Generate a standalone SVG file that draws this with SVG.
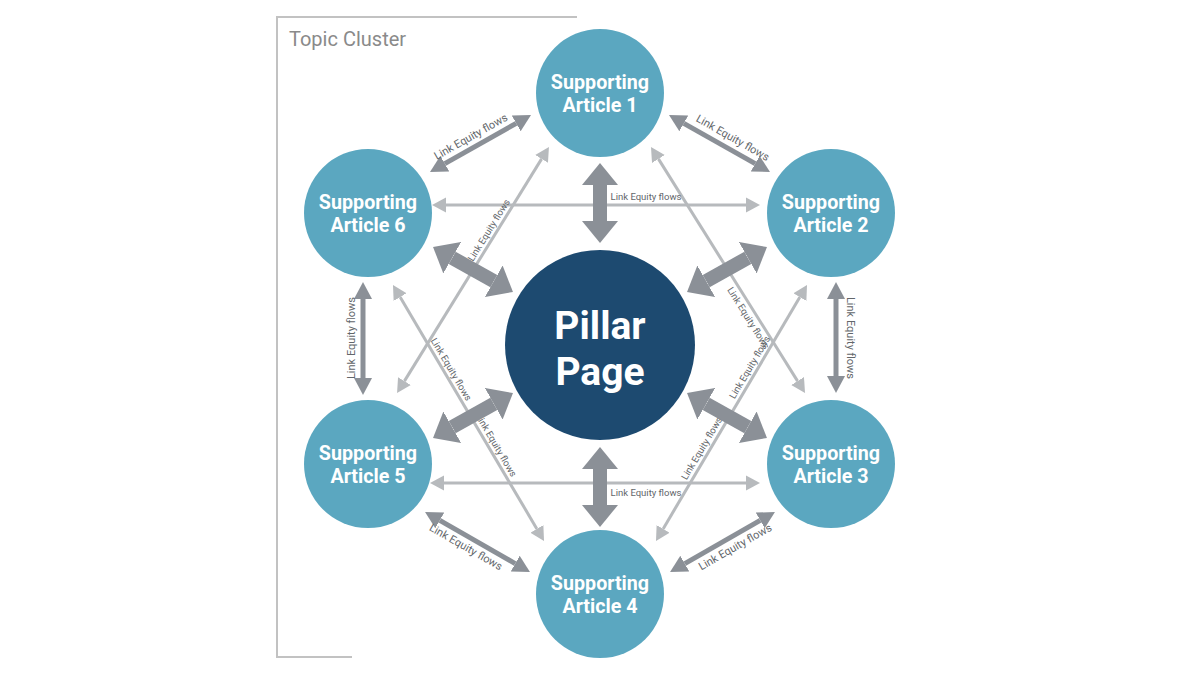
<svg xmlns="http://www.w3.org/2000/svg" width="1200" height="675" viewBox="0 0 1200 675">
<style>
.frame{fill:none;stroke:#c2c2c2;stroke-width:2}
.title{font-family:Roboto,"Liberation Sans",sans-serif;font-size:20px;fill:#8a8a8a}
.sat{fill:#5ba7c0}
.pillar{fill:#1d4a70}
.nt{font-family:Roboto,"Liberation Sans",sans-serif;font-weight:bold;font-size:19.7px;fill:#ffffff;text-anchor:middle}
.pt{font-family:Roboto,"Liberation Sans",sans-serif;font-weight:bold;font-size:39px;fill:#ffffff;text-anchor:middle}
.thick{stroke:#8b9097;stroke-width:14;fill:none}
.med{stroke:#8b9097;stroke-width:5;fill:none}
.light{stroke:#b7babd;stroke-width:3;fill:none}
.lbl{font-family:Roboto,"Liberation Sans",sans-serif;font-size:11px;fill:#62666a;text-anchor:middle}
.sl{font-family:Roboto,"Liberation Sans",sans-serif;font-size:9.5px;fill:#62666a;text-anchor:middle}
</style>
<defs>
<marker id="hThick" markerUnits="userSpaceOnUse" viewBox="0 -19 23 38" refX="0" refY="0" markerWidth="23" markerHeight="38" orient="auto-start-reverse">
<path d="M0,-18 L22,0 L0,18 Z" fill="#8b9097"/>
</marker>
<marker id="hMed" markerUnits="userSpaceOnUse" viewBox="0 -10 18 20" refX="0" refY="0" markerWidth="18" markerHeight="20" orient="auto-start-reverse">
<path d="M0,-9 L17,0 L0,9 Z" fill="#8b9097"/>
</marker>
<marker id="hLight" markerUnits="userSpaceOnUse" viewBox="0 -8 15 16" refX="0" refY="0" markerWidth="15" markerHeight="16" orient="auto-start-reverse">
<path d="M0,-7.5 L14,0 L0,7.5 Z" fill="#b7babd"/>
</marker>
</defs>
<rect width="1200" height="675" fill="#ffffff"/>
<g id="topic-cluster">
<polyline class="frame" points="577,17 277,17 277,657 352,657"/>
<text class="title" x="289" y="46">Topic Cluster</text>
</g>
<g id="connectors">
<line class="light" x1="446" y1="205" x2="746" y2="205" marker-start="url(#hLight)" marker-end="url(#hLight)"/>
<line class="light" x1="444" y1="483" x2="746" y2="483" marker-start="url(#hLight)" marker-end="url(#hLight)"/>
<line class="light" x1="541.6" y1="158.9" x2="404.4" y2="381.1" marker-start="url(#hLight)" marker-end="url(#hLight)"/>
<line class="light" x1="658.4" y1="158.9" x2="797.6" y2="381.1" marker-start="url(#hLight)" marker-end="url(#hLight)"/>
<line class="light" x1="400.1" y1="297.1" x2="536.9" y2="528.9" marker-start="url(#hLight)" marker-end="url(#hLight)"/>
<line class="light" x1="799.9" y1="297.1" x2="663.1" y2="528.9" marker-start="url(#hLight)" marker-end="url(#hLight)"/>
<text class="sl" x="646" y="200">Link Equity flows</text>
<text class="sl" x="646" y="496">Link Equity flows</text>
<text class="sl" transform="translate(495,234) rotate(-58.3)" y="-4">Link Equity flows</text>
<text class="sl" transform="translate(445,373) rotate(59.5)" y="-4">Link Equity flows</text>
<text class="sl" transform="translate(490,449) rotate(59.5)" y="-4">Link Equity flows</text>
<text class="sl" transform="translate(755,314) rotate(58)" y="11">Link Equity flows</text>
<text class="sl" transform="translate(756,371) rotate(-59.5)" y="-4">Link Equity flows</text>
<text class="sl" transform="translate(708,452) rotate(-59.5)" y="-4">Link Equity flows</text>
<line class="med" x1="444.8" y1="163.65" x2="516.2" y2="123.35" marker-start="url(#hMed)" marker-end="url(#hMed)"/>
<line class="med" x1="683.8" y1="123.35" x2="755.2" y2="163.65" marker-start="url(#hMed)" marker-end="url(#hMed)"/>
<line class="med" x1="363" y1="299" x2="363" y2="378" marker-start="url(#hMed)" marker-end="url(#hMed)"/>
<line class="med" x1="836" y1="299" x2="836" y2="376" marker-start="url(#hMed)" marker-end="url(#hMed)"/>
<line class="med" x1="439.8" y1="520.4" x2="515.2" y2="563.6" marker-start="url(#hMed)" marker-end="url(#hMed)"/>
<line class="med" x1="760.2" y1="520.4" x2="684.8" y2="563.6" marker-start="url(#hMed)" marker-end="url(#hMed)"/>
<text class="lbl" transform="translate(476,146) rotate(-29.4)" y="-7">Link Equity flows</text>
<text class="lbl" transform="translate(727,148) rotate(29.4)" y="-8">Link Equity flows</text>
<text class="lbl" transform="translate(355,338) rotate(-90)">Link Equity flows</text>
<text class="lbl" transform="translate(847,338) rotate(90)">Link Equity flows</text>
<text class="lbl" transform="translate(471,538) rotate(29.7)" y="14">Link Equity flows</text>
<text class="lbl" transform="translate(730,538) rotate(-29.7)" y="14">Link Equity flows</text>
<line class="thick" x1="600" y1="185" x2="600" y2="221" marker-start="url(#hThick)" marker-end="url(#hThick)"/>
<line class="thick" x1="600" y1="469" x2="600" y2="505" marker-start="url(#hThick)" marker-end="url(#hThick)"/>
<line class="thick" x1="452.2" y1="257.8" x2="493.8" y2="281.2" marker-start="url(#hThick)" marker-end="url(#hThick)"/>
<line class="thick" x1="747.8" y1="257.8" x2="706.2" y2="281.2" marker-start="url(#hThick)" marker-end="url(#hThick)"/>
<line class="thick" x1="452.2" y1="427.2" x2="493.8" y2="403.8" marker-start="url(#hThick)" marker-end="url(#hThick)"/>
<line class="thick" x1="747.8" y1="427.2" x2="706.2" y2="403.8" marker-start="url(#hThick)" marker-end="url(#hThick)"/>
</g>
<g id="pillar-page">
<circle class="pillar" cx="600" cy="345" r="95"/>
<text class="pt" x="600" y="339">Pillar</text>
<text class="pt" x="600" y="385">Page</text>
</g>
<g id="article-1">
<circle class="sat" cx="600" cy="93" r="64"/>
<text class="nt" x="600" y="89">Supporting</text>
<text class="nt" x="600" y="112">Article 1</text>
</g>
<g id="article-2">
<circle class="sat" cx="831" cy="213" r="64"/>
<text class="nt" x="831" y="209">Supporting</text>
<text class="nt" x="831" y="232">Article 2</text>
</g>
<g id="article-3">
<circle class="sat" cx="831" cy="464" r="64"/>
<text class="nt" x="831" y="460">Supporting</text>
<text class="nt" x="831" y="483">Article 3</text>
</g>
<g id="article-4">
<circle class="sat" cx="600" cy="594" r="64"/>
<text class="nt" x="600" y="590">Supporting</text>
<text class="nt" x="600" y="613">Article 4</text>
</g>
<g id="article-5">
<circle class="sat" cx="368" cy="464" r="64"/>
<text class="nt" x="368" y="460">Supporting</text>
<text class="nt" x="368" y="483">Article 5</text>
</g>
<g id="article-6">
<circle class="sat" cx="368" cy="213" r="64"/>
<text class="nt" x="368" y="209">Supporting</text>
<text class="nt" x="368" y="232">Article 6</text>
</g>
</svg>
